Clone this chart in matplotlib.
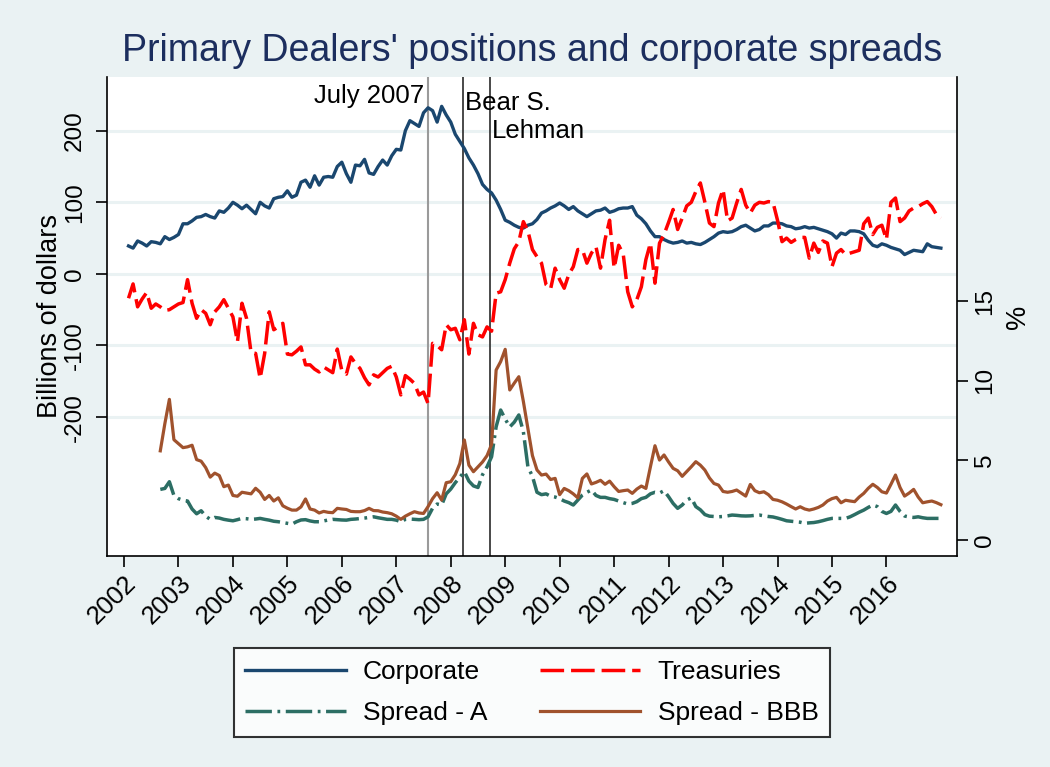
import numpy as np
import matplotlib
matplotlib.use("Agg")
import matplotlib.pyplot as plt

plt.rcParams['font.family'] = ['Liberation Sans', 'DejaVu Sans']
plt.rcParams['lines.scale_dashes'] = False

# ---------------- data (monthly, Feb 2002 .. Jan 2017) ----------------
start_year = 2002
n_months = 180
spread_first = 7          # spreads start 7 months later than positions

corporate = [39,36,46,43,39,45,44,42,52,48,
             51,55,70,70,74,79,80,83,80,78,
             88,86,92,100,96,91,96,90,84,100,
             95,92,105,107,108,116,107,110,128,131,
             121,137,124,135,136,135,150,156,140,128,
             152,151,160,141,139,150,159,152,165,174,
             173,200,214,210,206,225,232,228,212,234,
             222,212,195,185,175,162,152,140,125,118,
             113,103,90,75,72,68,65,64,68,70,
             76,85,88,92,95,99,95,90,94,88,
             84,80,84,88,89,92,86,88,91,92,
             92,94,82,77,70,60,52,52,48,45,
             43,44,46,43,44,42,41,44,48,52,
             57,59,58,59,62,66,68,64,60,62,
             67,67,71,71,70,67,66,63,64,66,
             64,65,63,61,59,56,50,57,55,60,
             60,59,56,47,40,38,42,40,37,35,
             33,27,30,33,32,31,42,38,37,36]

treasuries = [-34,-14,-46,-35,-26,-48,-42,-46,-51,-50,
              -46,-42,-40,-8,-41,-62,-50,-55,-71,-53,
              -46,-36,-48,-60,-95,-41,-62,-110,-111,-146,
              -111,-53,-78,-74,-69,-112,-113,-108,-102,-127,
              -127,-133,-137,-130,-134,-138,-105,-135,-140,-116,
              -125,-132,-145,-155,-141,-144,-138,-132,-129,-144,
              -169,-142,-147,-153,-169,-165,-181,-97,-100,-106,
              -71,-78,-76,-92,-64,-112,-69,-85,-88,-74,
              -80,-27,-25,-8,15,35,45,73,60,34,
              24,15,-15,-21,8,-8,-20,-1,10,34,
              34,15,29,38,8,48,75,8,40,28,
              -25,-46,-36,-18,20,43,-13,43,55,72,
              90,62,78,95,100,115,127,100,71,66,
              99,118,74,78,99,118,96,85,96,100,
              99,101,100,75,45,50,44,48,51,51,
              22,43,30,46,43,10,29,34,27,29,
              31,33,70,78,55,65,68,48,100,106,
              73,78,88,92,94,98,101,94,83,78]

spread_a = [3.18,3.24,3.66,2.8,2.6,2.5,2.45,1.95,1.65,1.84,
            1.5,1.3,1.42,1.38,1.3,1.25,1.21,1.28,1.36,1.34,
            1.3,1.32,1.36,1.3,1.25,1.18,1.15,1.1,1.05,1.0,
            1.15,1.26,1.28,1.2,1.15,1.15,1.2,1.26,1.3,1.28,
            1.26,1.25,1.3,1.32,1.35,1.38,1.42,1.46,1.4,1.35,
            1.3,1.3,1.25,1.15,1.3,1.32,1.3,1.28,1.3,1.46,
            2.0,2.26,2.2,2.9,3.2,3.6,3.95,4.29,3.7,3.4,
            3.3,4.1,4.6,5.23,7.11,8.16,7.6,7.1,7.4,7.85,
            6.8,4.6,4.0,3.0,2.85,2.9,2.75,2.7,2.6,2.45,
            2.35,2.2,2.51,2.82,3.0,3.14,2.8,2.68,2.68,2.6,
            2.55,2.45,2.35,2.26,2.3,2.41,2.6,2.68,2.9,3.0,
            2.95,3.1,2.72,2.3,1.99,2.2,2.51,2.65,2.1,1.9,
            1.6,1.5,1.48,1.46,1.48,1.52,1.57,1.55,1.52,1.51,
            1.52,1.55,1.57,1.52,1.48,1.45,1.38,1.3,1.21,1.18,
            1.15,1.12,1.05,1.08,1.1,1.15,1.22,1.3,1.36,1.36,
            1.36,1.36,1.46,1.6,1.75,1.88,2.05,2.2,2.1,1.8,
            1.67,1.8,2.2,1.8,1.51,1.45,1.42,1.46,1.4,1.36,
            1.36,1.36,1.36]

spread_bbb = [5.6,7.3,8.83,6.3,6.05,5.8,5.85,5.95,5.05,4.95,
              4.55,3.95,4.2,4.05,3.35,3.45,2.8,2.75,3.0,2.95,
              2.9,3.25,3.0,2.55,2.8,2.45,2.65,2.15,2.0,1.88,
              1.88,2.08,2.58,1.95,1.88,1.7,1.8,1.74,1.72,1.99,
              1.95,1.92,1.8,1.78,1.78,1.85,1.99,1.85,1.84,1.76,
              1.72,1.65,1.5,1.3,1.5,1.65,1.78,1.7,1.67,2.1,
              2.6,2.97,2.51,3.6,3.66,4.1,4.8,6.28,4.7,4.29,
              4.6,4.9,5.3,6.0,10.67,11.2,11.97,9.42,9.85,10.25,
              8.7,7.0,5.3,4.4,4.08,4.14,3.8,3.87,2.85,3.24,
              3.1,2.9,2.65,3.87,4.15,3.52,3.62,3.75,3.5,3.7,
              3.35,3.05,3.1,3.14,2.93,3.2,3.39,3.24,4.6,5.92,
              5.02,5.34,4.9,4.5,4.35,4.0,4.3,4.6,4.92,4.7,
              4.39,3.9,3.55,3.45,3.05,3.0,3.05,3.14,2.95,2.76,
              3.49,3.1,2.97,3.03,2.85,2.55,2.5,2.4,2.26,2.1,
              1.95,2.09,1.95,1.88,1.95,2.05,2.2,2.45,2.6,2.68,
              2.34,2.5,2.45,2.41,2.7,2.93,3.25,3.5,3.3,3.03,
              2.95,3.5,4.08,3.3,2.76,2.95,3.18,2.7,2.34,2.4,
              2.45,2.35,2.22]

years = list(range(2002, 2017))
left_ticks = [-200, -100, 0, 100, 200]
right_ticks = [0, 5, 10, 15]
event_dates = [2007.583, 2008.225, 2008.72]
event_labels = ['July 2007', 'Bear S.', 'Lehman']

dates = start_year + np.arange(1, n_months + 1) / 12.0
spread_dates = dates[spread_first:]

# ---------------- styling ----------------
BG = '#EAF2F3'
C_CORP = '#1A476F'
C_TRE = '#FF0000'
C_A = '#2C6E64'
C_BBB = '#A0522D'
TITLE_C = '#1C2E5E'

fig = plt.figure(figsize=(10.5, 7.67), dpi=100, facecolor=BG)
W, H = 1050, 767
ax = fig.add_axes([107 / W, 1 - 556 / H, 850 / W, 479 / H])
ax.set_facecolor('white')
ax2 = ax.twinx()

ax.set_xlim(2001.688, 2017.296)
ax.set_ylim(-394, 275)
ax2.set_ylim(-1.0, 29.06)

ax.yaxis.grid(True, color=BG, lw=2.2, zorder=0)
ax.set_axisbelow(True)

for d, c, lw in zip(event_dates, ['#9a9a9a', '#3a3a3a', '#3a3a3a'], [1.5, 1.3, 1.3]):
    ax.axvline(d, color=c, lw=lw, zorder=1.5)

h_corp, = ax.plot(dates, corporate, color=C_CORP, lw=2.4, zorder=3,
                  solid_joinstyle='round', label='Corporate')
h_tre, = ax.plot(dates, treasuries, color=C_TRE, lw=2.5, zorder=3,
                 dashes=(17, 5), label='Treasuries')
h_a, = ax2.plot(spread_dates, spread_a, color=C_A, lw=2.5, zorder=3,
                dashes=(19, 4, 2, 4), label='Spread - A')
h_bbb, = ax2.plot(spread_dates, spread_bbb, color=C_BBB, lw=2.3, zorder=3,
                  solid_joinstyle='round', label='Spread - BBB')

# spines
for a in (ax, ax2):
    a.spines['top'].set_visible(False)
ax.spines['right'].set_visible(False)
ax2.spines['left'].set_visible(False)
ax2.spines['bottom'].set_visible(False)
for s in ['left', 'bottom']:
    ax.spines[s].set_linewidth(1.2)
ax2.spines['right'].set_linewidth(1.2)

# ticks
ax.set_xticks(years)
ax.set_xticklabels([str(y) for y in years], rotation=45, ha='right', va='top',
                   rotation_mode='anchor', fontsize=18.5)
ax.tick_params(axis='x', direction='out', length=8, width=1.2, pad=3)

ax.set_yticks(left_ticks)
ax.set_yticklabels([str(v) for v in left_ticks], rotation=90, va='center', fontsize=17.5)
ax.tick_params(axis='y', direction='out', length=8, width=1.2, pad=7)

ax2.set_yticks(right_ticks)
ax2.set_yticklabels([str(v) for v in right_ticks], rotation=90, va='center', fontsize=17.5)
ax2.tick_params(axis='y', direction='out', length=8, width=1.2, pad=4)

ax.set_ylabel('Billions of dollars', fontsize=19.5, labelpad=1)
ax2.set_ylabel('%', fontsize=19.5, labelpad=7)

# event labels
offsets = [(-4, -19, 'right'), (2, -26, 'left'), (2, -54, 'left')]
for d, lbl, (dx, dy, ha) in zip(event_dates, event_labels, offsets):
    ax.annotate(lbl, xy=(d, 1), xycoords=('data', 'axes fraction'),
                xytext=(dx * 0.72, dy * 0.72), textcoords='offset points',
                ha=ha, va='center', fontsize=18.5, color='black')

fig.text(532 / W, 1 - 51 / H, "Primary Dealers' positions and corporate spreads",
         ha='center', va='center', fontsize=27, color=TITLE_C)

leg = fig.legend(handles=[h_corp, h_a, h_tre, h_bbb],
                 labels=['Corporate', 'Spread - A', 'Treasuries', 'Spread - BBB'],
                 ncol=2, loc='center', bbox_to_anchor=(532 / W, 1 - 692.5 / H),
                 frameon=True, fancybox=False, edgecolor='black', facecolor='white',
                 fontsize=19, handlelength=3.8, handletextpad=0.65,
                 columnspacing=2.0, labelspacing=0.65, borderpad=0.45,
                 borderaxespad=0)
leg.get_frame().set_linewidth(1.5)

fig.savefig('out.png', dpi=100, facecolor=BG)
